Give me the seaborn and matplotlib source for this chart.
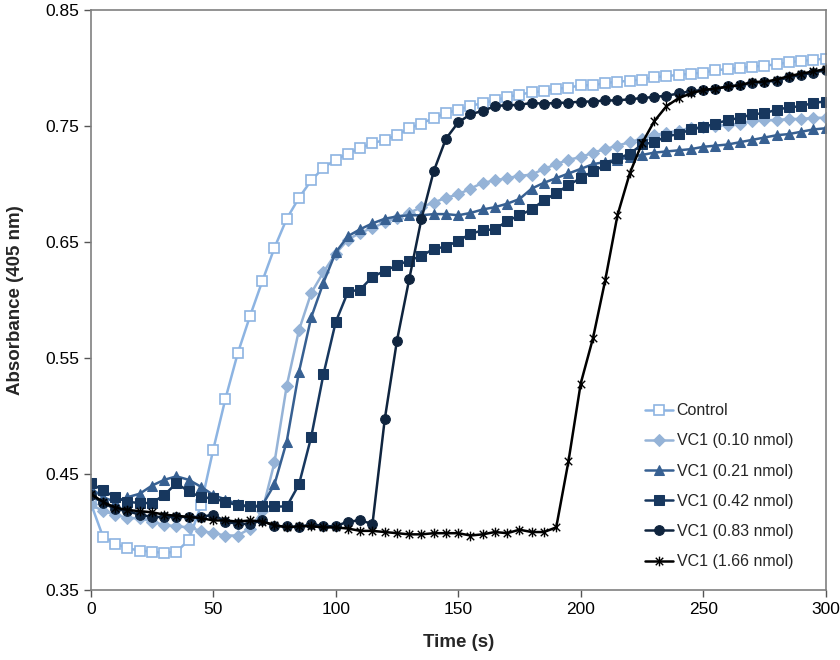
import numpy as np
import pandas as pd
import matplotlib
matplotlib.use("Agg")
import matplotlib.pyplot as plt
from matplotlib.path import Path
import seaborn as sns

# time points (s), one reading every 5 s
time_s = list(range(0, 301, 5))

control = [0.425, 0.396, 0.390, 0.386, 0.384, 0.383, 0.382, 0.383, 0.393, 0.423,
           0.471, 0.515, 0.554, 0.586, 0.616, 0.645, 0.670, 0.688, 0.703, 0.714,
           0.721, 0.726, 0.731, 0.735, 0.738, 0.742, 0.748, 0.752, 0.757, 0.761,
           0.764, 0.767, 0.770, 0.772, 0.775, 0.777, 0.779, 0.780, 0.782, 0.783,
           0.785, 0.785, 0.787, 0.788, 0.789, 0.790, 0.792, 0.793, 0.794, 0.795,
           0.796, 0.798, 0.799, 0.800, 0.801, 0.802, 0.803, 0.805, 0.806, 0.807,
           0.808]
vc1_010 = [0.424, 0.418, 0.415, 0.412, 0.412, 0.409, 0.406, 0.405, 0.404, 0.401,
           0.399, 0.397, 0.397, 0.403, 0.418, 0.460, 0.526, 0.574, 0.606, 0.624,
           0.640, 0.652, 0.658, 0.662, 0.667, 0.671, 0.675, 0.680, 0.684, 0.688,
           0.691, 0.696, 0.701, 0.703, 0.705, 0.707, 0.708, 0.713, 0.717, 0.721,
           0.723, 0.727, 0.730, 0.733, 0.736, 0.739, 0.742, 0.744, 0.746, 0.748,
           0.749, 0.750, 0.751, 0.752, 0.754, 0.755, 0.755, 0.756, 0.756, 0.757,
           0.757]
vc1_021 = [0.438, 0.430, 0.426, 0.430, 0.433, 0.440, 0.445, 0.448, 0.445, 0.439,
           0.432, 0.428, 0.424, 0.422, 0.423, 0.441, 0.478, 0.538, 0.585, 0.615,
           0.641, 0.655, 0.661, 0.666, 0.670, 0.672, 0.673, 0.673, 0.674, 0.674,
           0.673, 0.675, 0.678, 0.680, 0.683, 0.687, 0.696, 0.701, 0.705, 0.709,
           0.713, 0.717, 0.719, 0.721, 0.723, 0.725, 0.727, 0.728, 0.729, 0.730,
           0.732, 0.733, 0.734, 0.736, 0.738, 0.740, 0.742, 0.743, 0.745, 0.747,
           0.748]
vc1_042 = [0.442, 0.436, 0.430, 0.426, 0.425, 0.425, 0.432, 0.442, 0.435, 0.430,
           0.429, 0.426, 0.423, 0.422, 0.422, 0.422, 0.422, 0.441, 0.482, 0.536,
           0.581, 0.607, 0.609, 0.620, 0.625, 0.630, 0.634, 0.638, 0.644, 0.646,
           0.651, 0.657, 0.660, 0.661, 0.668, 0.673, 0.678, 0.686, 0.692, 0.699,
           0.705, 0.711, 0.716, 0.722, 0.726, 0.734, 0.736, 0.741, 0.743, 0.747,
           0.749, 0.752, 0.755, 0.757, 0.760, 0.761, 0.764, 0.766, 0.767, 0.770,
           0.771]
vc1_083 = [0.432, 0.425, 0.420, 0.418, 0.415, 0.413, 0.413, 0.413, 0.413, 0.413,
           0.415, 0.409, 0.407, 0.407, 0.410, 0.405, 0.405, 0.404, 0.407, 0.405,
           0.405, 0.409, 0.410, 0.407, 0.497, 0.565, 0.618, 0.670, 0.711, 0.739,
           0.753, 0.760, 0.763, 0.767, 0.768, 0.768, 0.770, 0.769, 0.770, 0.770,
           0.771, 0.771, 0.772, 0.772, 0.773, 0.774, 0.775, 0.776, 0.778, 0.780,
           0.781, 0.782, 0.784, 0.785, 0.787, 0.788, 0.789, 0.792, 0.794, 0.796,
           0.798]
vc1_166 = [0.433, 0.426, 0.421, 0.419, 0.418, 0.417, 0.415, 0.414, 0.413, 0.412,
           0.410, 0.410, 0.409, 0.410, 0.409, 0.406, 0.404, 0.405, 0.405, 0.404,
           0.404, 0.403, 0.401, 0.401, 0.400, 0.399, 0.398, 0.398, 0.399, 0.399,
           0.399, 0.397, 0.398, 0.400, 0.399, 0.402, 0.400, 0.400, 0.404, 0.461,
           0.528, 0.567, 0.617, 0.673, 0.709, 0.735, 0.754, 0.767, 0.774, 0.778,
           0.781, 0.782, 0.784, 0.785, 0.788, 0.788, 0.790, 0.793, 0.795, 0.797,
           0.799]

labels = ["Control", "VC1 (0.10 nmol)", "VC1 (0.21 nmol)",
          "VC1 (0.42 nmol)", "VC1 (0.83 nmol)", "VC1 (1.66 nmol)"]
series = [control, vc1_010, vc1_021, vc1_042, vc1_083, vc1_166]

# Excel style star: an X with a vertical bar
star = Path([(-1, -1), (1, 1), (-1, 1), (1, -1), (0, -1.3), (0, 1.3)],
            [Path.MOVETO, Path.LINETO, Path.MOVETO, Path.LINETO, Path.MOVETO, Path.LINETO])

styles = [
    dict(color="#8DB4E2", marker="s", ms=6.8, mfc="white", mec="#8DB4E2", mew=1.2),
    dict(color="#95B3D7", marker="D", ms=5.8, mfc="#95B3D7", mec="#95B3D7"),
    dict(color="#376092", marker="^", ms=7.3, mfc="#376092", mec="#376092"),
    dict(color="#17375E", marker="s", ms=6.8, mfc="#17375E", mec="#17375E"),
    dict(color="#0F243E", marker="o", ms=7, mfc="#0F243E", mec="#0F243E"),
    dict(color="black", marker=star, ms=7, mfc="none", mec="black", mew=1.0),
]

sns.set_style("ticks")
plt.rcParams["font.family"] = ["Liberation Sans", "DejaVu Sans"]

fig = plt.figure(figsize=(8.4, 6.6), dpi=100)
ax = fig.add_axes([0.108, 0.106, 0.875, 0.879])

for vals, lab, st in zip(series, labels, styles):
    df = pd.DataFrame({"Time": time_s, "Abs": vals})
    sns.lineplot(data=df, x="Time", y="Abs", ax=ax, label=lab, lw=1.8, **st)

ax.set_xlim(0, 300)
ax.set_ylim(0.35, 0.85)
ax.set_xticks(np.arange(0, 301, 50))
ax.set_yticks(np.arange(0.35, 0.851, 0.1))
ax.set_yticklabels(["%.2f" % v for v in np.arange(0.35, 0.851, 0.1)])
ax.tick_params(direction="out", length=5, width=1, colors="#555555", labelcolor="black", labelsize=12.5)
for s in ax.spines.values():
    s.set_color("#808080")
    s.set_linewidth(1.2)

ax.set_xlabel("Time (s)", fontsize=13.5, fontweight="bold", labelpad=12)
ax.set_ylabel("Absorbance (405 nm)", fontsize=13.5, fontweight="bold", labelpad=15)

ax.legend(loc="upper left", bbox_to_anchor=(0.745, 0.333), frameon=False, fontsize=11.5,
          handlelength=1.8, handletextpad=0.2, labelspacing=0.95, borderaxespad=0)

fig.savefig("out.png", dpi=100)
